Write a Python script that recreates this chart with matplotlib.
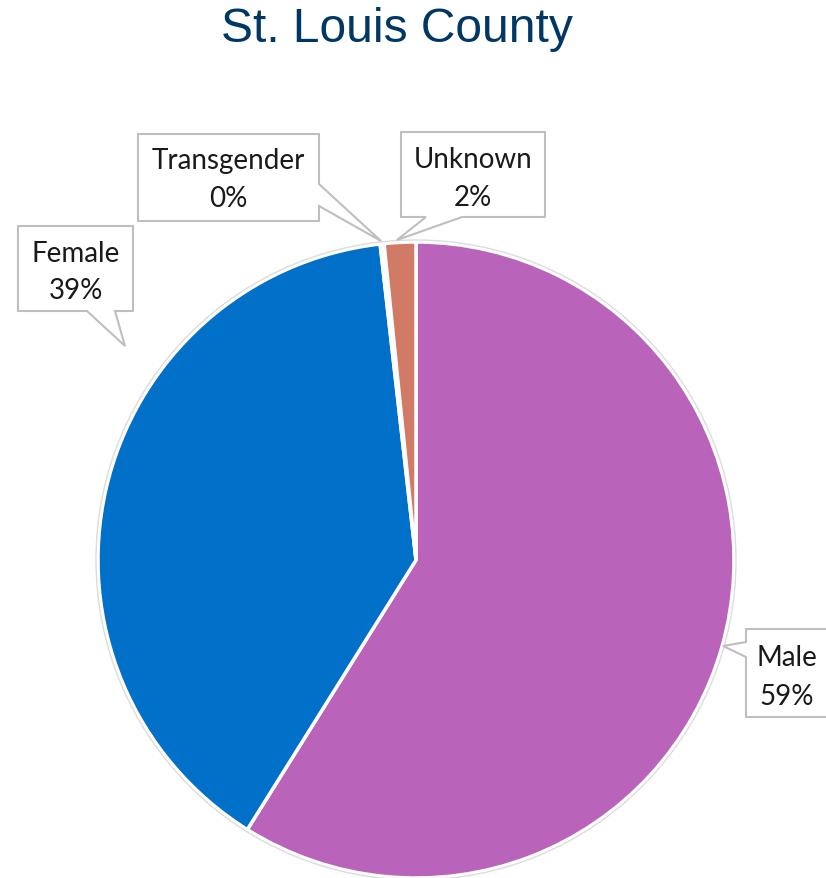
import matplotlib
matplotlib.use('Agg')
import matplotlib.pyplot as plt
from matplotlib.patches import Polygon, Circle

# data
categories = ["Male", "Female", "Transgender", "Unknown"]
values = [58.9, 39.3, 0.2, 1.6]
pct_labels = ["59%", "39%", "0%", "2%"]
colors = ["#B964BA", "#0070C8", "#FFFFFF", "#D17B67"]

W, H = 826, 879
fig = plt.figure(figsize=(W / 100, H / 100), dpi=100)
ax = fig.add_axes([0, 0, 1, 1])

cx, cy, r = 416, 561, 318

# y axis is flipped, so counterclock in data space is clockwise on screen
ax.pie(values, colors=colors, startangle=-90, counterclock=True,
       center=(cx, cy), radius=r, frame=True,
       wedgeprops=dict(edgecolor="white", linewidth=2.5))
ax.add_patch(Circle((cx, cy), r + 2, fill=False, edgecolor="#dcdcdc", lw=1, zorder=3))
ax.set_xlim(0, W)
ax.set_ylim(H, 0)
ax.set_aspect("auto")
ax.axis("off")

# callout shapes (box + pointer)
callouts = {
    "Transgender": [(138, 135), (319, 135), (319, 185), (381, 242), (319, 207), (319, 222), (138, 222)],
    "Unknown": [(401, 133), (545, 133), (545, 218), (462, 218), (397, 241), (426, 218), (401, 218)],
    "Female": [(18, 227), (133, 227), (133, 312), (115, 312), (125, 347), (87, 312), (18, 312)],
    "Male": [(746, 630), (832, 630), (832, 718), (746, 718), (746, 658), (723, 647), (746, 643)],
}
text_pos = {
    "Transgender": (228, 169, 207),
    "Unknown": (473, 168, 206),
    "Female": (76, 262, 299),
    "Male": (787, 666, 705),
}

for name, pct in zip(categories, pct_labels):
    ax.add_patch(Polygon(callouts[name], closed=True, facecolor="white",
                         edgecolor="#bfbfbf", lw=1.5, zorder=5))
    x, y1, y2 = text_pos[name]
    ax.text(x, y1, name, ha="center", va="baseline", fontsize=20,
            family="Lato", color="#1a1a1a", zorder=6)
    ax.text(x, y2, pct, ha="center", va="baseline", fontsize=20,
            family="Lato", color="#1a1a1a", zorder=6)

ax.text(397, 30, "St. Louis County", ha="center", va="center", fontsize=34.5,
        family="Liberation Sans", color="#003764")

fig.savefig("out.png", dpi=100)
